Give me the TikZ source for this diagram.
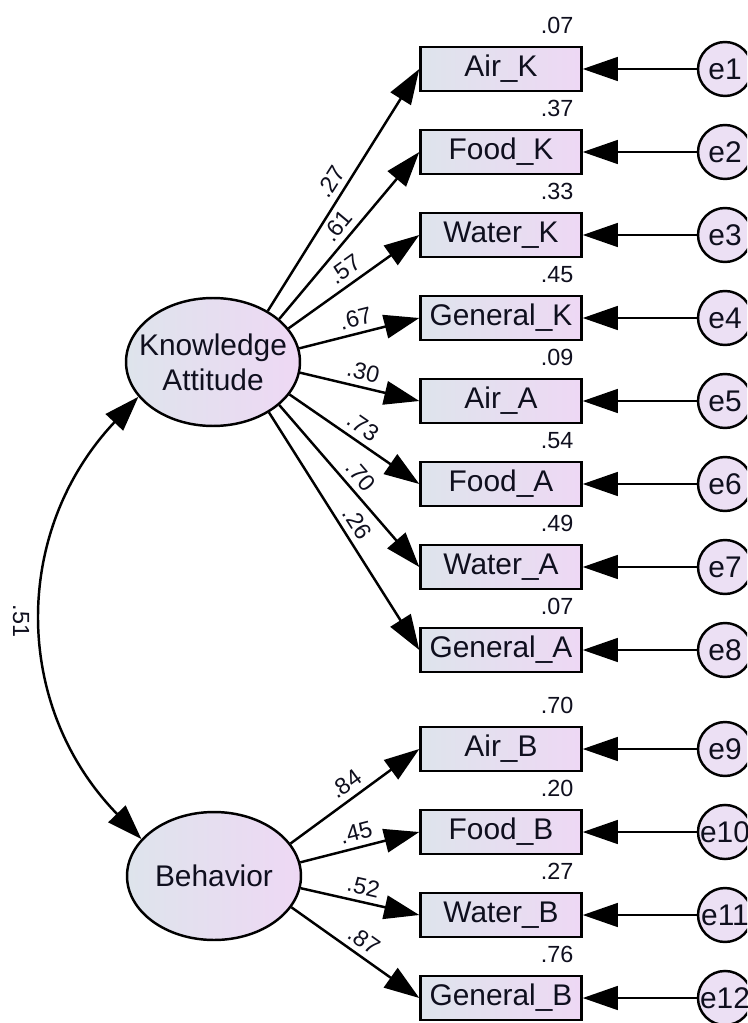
\documentclass[tikz,border=0pt]{standalone}
\usepackage{fontspec}
\setmainfont{Liberation Sans}
\usetikzlibrary{arrows.meta,shapes.geometric}
\definecolor{fillL}{RGB}{222,228,236}
\definecolor{fillR}{RGB}{238,216,244}
\definecolor{errfill}{RGB}{236,224,244}
\definecolor{txt}{RGB}{15,15,30}
\tikzset{
 obs/.style={draw, line width=1.4pt, rectangle, minimum width=3.22cm, minimum height=0.88cm,
   inner sep=1pt, left color=fillL, right color=fillR, font=\fontsize{17}{20}\selectfont, text=txt},
 lat/.style={draw, line width=1.4pt, ellipse, minimum width=3.48cm, minimum height=2.56cm,
   inner sep=0pt, left color=fillL, right color=fillR, font=\fontsize{17}{20}\selectfont, text=txt},
 err/.style={draw, line width=1.4pt, circle, minimum size=1.08cm, inner sep=0pt,
   fill=errfill, font=\fontsize{17}{20}\selectfont, text=txt},
 pathar/.style={line width=1.4pt, -{Triangle[length=20pt,width=13.5pt]}},
 corr/.style={line width=1.4pt, {Triangle[length=20pt,width=13.5pt]}-{Triangle[length=20pt,width=13.5pt]}},
 coef/.style={font=\fontsize{13.3}{15}\selectfont, text=txt, sloped, above, pos=0.5},
 rsq/.style={font=\fontsize{13.3}{15}\selectfont, text=txt, anchor=south east, inner sep=0pt},
}
\begin{document}
\begin{tikzpicture}[x=0.02cm,y=-0.02cm]
\useasboundingbox (0,0) rectangle (747,1023);
\clip (0,0) rectangle (747,1023);
\fill[white] (0,0) rectangle (747,1023);

% latent variables
\node[lat, label={[align=center, font=\fontsize{17}{20}\selectfont, text=txt]center:Knowledge\\Attitude}] (KA) at (213,362) {};
\node[lat] (BH) at (214,876) {Behavior};

% observed variables, errors, paths
\foreach \n/\t/\y/\r/\ang/\c/\e in {
  AirK/Air\_K/69/.07/43/.27/e1,
  FoodK/Food\_K/152/.37/33/.61/e2,
  WaterK/Water\_K/235/.33/24/.57/e3,
  GenK/General\_K/318/.45/9/.67/e4,
  AirA/Air\_A/401/.09/-7/.30/e5,
  FoodA/Food\_A/484/.54/-23/.73/e6,
  WaterA/Water\_A/567/.49/-33/.70/e7,
  GenA/General\_A/650/.07/-42/.26/e8}{
  \node[obs] (\n) at (501,\y) {\t};
  \node[rsq] (r\n) at ([xshift=-5.1pt,yshift=6.8pt]\n.north east) {\r};
  \node[err] (\e) at (725,\y) {\e};
  \draw[pathar] (\e) -- (\n.east);
  \draw[pathar] (KA.\ang) -- node[coef] {\c} (\n.west);
}
\foreach \n/\t/\y/\r/\ang/\c/\e in {
  AirB/Air\_B/749/.70/23/.84/e9,
  FoodB/Food\_B/832/.20/9/.45/e10,
  WaterB/Water\_B/915/.27/-8/.52/e11,
  GenB/General\_B/998/.76/-22/.87/e12}{
  \node[obs] (\n) at (501,\y) {\t};
  \node[rsq] (r\n) at ([xshift=-5.1pt,yshift=6.8pt]\n.north east) {\r};
  \node[err] (\e) at (725,\y) {\e};
  \draw[pathar] (\e) -- (\n.east);
  \draw[pathar] (BH.\ang) -- node[coef] {\c} (\n.west);
}

% correlation
\draw[corr] (KA.205) .. controls (12,531) and (12,706) .. (BH.153);
\node[rotate=-90, font=\fontsize{13.3}{15}\selectfont, text=txt] (r51) at (21,621) {.51};
\end{tikzpicture}
\end{document}
